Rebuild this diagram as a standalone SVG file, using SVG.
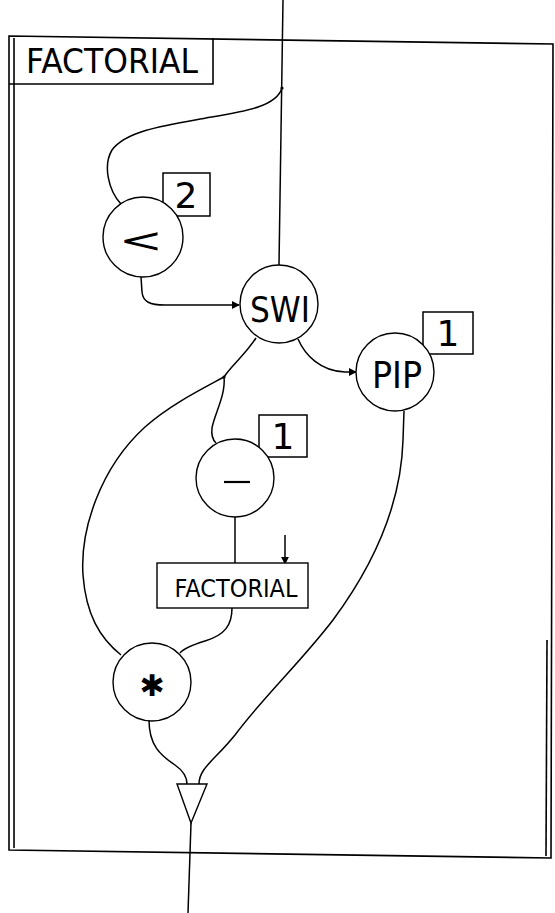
<svg xmlns="http://www.w3.org/2000/svg" width="555" height="913" viewBox="0 0 555 913">
  <style>
    .frame { fill: none; stroke: #000; stroke-width: 1.6; }
    .node { fill: #fff; stroke: #000; stroke-width: 1.4; }
    .const { fill: #fff; stroke: #000; stroke-width: 1.5; }
    .wire { fill: none; stroke: #000; stroke-width: 1.5; }
    .lbl { font-family: "DejaVu Sans", "Liberation Sans", sans-serif; fill: #000; text-anchor: middle; }
  </style>
  <defs>
    <marker id="arrow" viewBox="0 0 10 10" refX="9" refY="5" markerWidth="8" markerHeight="8" markerUnits="userSpaceOnUse" orient="auto">
      <path d="M0,0 L10,5 L0,10 Z" fill="#000"/>
    </marker>
  </defs>
  <rect width="555" height="913" fill="#fff"/>

  <!-- outer frame of the FACTORIAL definition -->
  <g id="frame">
    <path class="frame" d="M9,36 L553,44 L551,858 L9,850 Z"/>
    <path class="frame" d="M14,38 L14,848"/>
    <path class="frame" d="M547,640 L546,856"/>
    <path class="frame" d="M9,84 L213,84 L213,38"/>
    <text class="lbl" x="112" y="73" font-size="33" textLength="172" lengthAdjust="spacingAndGlyphs">FACTORIAL</text>
  </g>

  <!-- connectors -->
  <g id="connectors">
    <path class="wire" d="M283,0 L279,265"/>
    <path class="wire" d="M282,88 C276,108 240,112 200,119 C160,126 125,132 112,150 C103,165 108,190 121,204"/>
    <path class="wire" marker-end="url(#arrow)" d="M141,277 L142,292 C143,302 150,305 165,305 L239,305"/>
    <path class="wire" marker-end="url(#arrow)" d="M298,339 C305,355 320,371 345,372 L356,372"/>
    <path class="wire" d="M256,338 C245,355 232,365 224,377"/>
    <path class="wire" d="M224,377 C226,395 214,415 212,428 C211,436 214,441 216,443"/>
    <path class="wire" d="M224,377 C200,390 170,405 145,427 C100,468 80,530 83,575 C86,615 100,638 121,655"/>
    <path class="wire" d="M235,516 L235,563"/>
    <path class="wire" marker-end="url(#arrow)" d="M285,535 L285,564"/>
    <path class="wire" d="M232,608 C232,625 225,635 205,641 C192,645 184,648 180,653"/>
    <path class="wire" d="M404,411 L403,440 C401,510 370,570 333,620 C300,663 265,695 235,735 C215,760 199,768 199,784"/>
    <path class="wire" d="M149,720 C149,745 160,755 175,765 C185,772 187,778 187,784"/>
    <path class="wire" d="M191,823 L188,913"/>
    <circle cx="282" cy="88" r="1.6" fill="#000"/>
    <circle cx="224" cy="377" r="1.6" fill="#000"/>
  </g>

  <!-- less-than test with constant 2 -->
  <g id="node-lt">
    <rect class="const" x="163" y="173" width="47" height="43"/>
    <text class="lbl" x="186" y="208" font-size="36">2</text>
    <circle class="node" cx="143" cy="237" r="40"/>
    <text class="lbl" transform="translate(141,252) scale(1.15,0.75)" x="0" y="0" font-size="46">&lt;</text>
  </g>

  <!-- switch -->
  <g id="node-swi">
    <circle class="node" cx="279" cy="304" r="39"/>
    <text class="lbl" x="280" y="322" font-size="36" textLength="60" lengthAdjust="spacingAndGlyphs">SWI</text>
  </g>

  <!-- pass-through with constant 1 -->
  <g id="node-pip">
    <rect class="const" x="423" y="312" width="50" height="42"/>
    <text class="lbl" x="448" y="346" font-size="36">1</text>
    <circle class="node" cx="395" cy="372" r="39"/>
    <text class="lbl" x="397" y="388" font-size="38" textLength="50" lengthAdjust="spacingAndGlyphs">PIP</text>
  </g>

  <!-- subtract constant 1 -->
  <g id="node-minus">
    <rect class="const" x="259" y="415" width="48" height="42"/>
    <text class="lbl" x="283" y="449" font-size="36">1</text>
    <circle class="node" cx="235" cy="478" r="39"/>
    <path d="M224,482 L250,482" stroke="#000" stroke-width="2.2"/>
  </g>

  <!-- recursive call -->
  <g id="node-factorial">
    <rect class="node" x="157" y="563" width="151" height="45"/>
    <text class="lbl" x="236" y="597" font-size="25" textLength="123" lengthAdjust="spacingAndGlyphs">FACTORIAL</text>
  </g>

  <!-- multiply -->
  <g id="node-mul">
    <circle class="node" cx="152" cy="682" r="39"/>
    <text class="lbl" x="152" y="696" font-size="30">✱</text>
  </g>

  <!-- merge -->
  <g id="node-merge">
    <polygon class="node" points="177,784 207,784 191,823"/>
  </g>
</svg>
